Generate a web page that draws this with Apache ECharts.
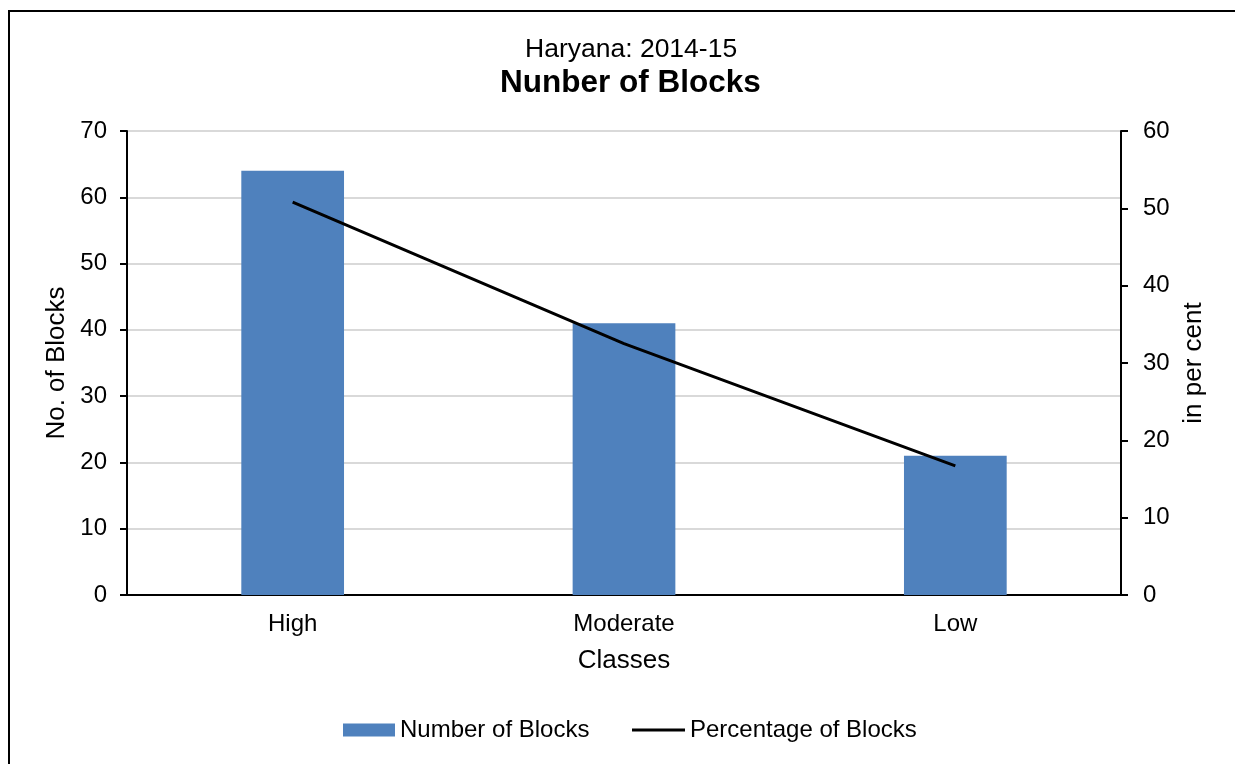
<!DOCTYPE html>
<html>
<head>
<meta charset="utf-8">
<script src="https://cdn.jsdelivr.net/npm/echarts@6/dist/echarts.min.js"></script>
<style>
  html, body { margin: 0; padding: 0; background: #fff; }
  #frame { position: absolute; left: 8px; top: 10px; width: 1240px; height: 770px; border: 2px solid #000; box-sizing: border-box; }
  #chart { position: absolute; left: 0; top: 0; width: 1235px; height: 764px; }
</style>
</head>
<body>
<div id="frame"></div>
<div id="chart"></div>
<script>
const categories = ["High", "Moderate", "Low"];
const blockCounts = [64, 41, 21];
const blockPercent = [50.8, 32.5, 16.7];
const seriesNames = ["Number of Blocks", "Percentage of Blocks"];

const chart = echarts.init(document.getElementById("chart"), null, { renderer: "canvas" });
const font = "Liberation Sans, Arial, sans-serif";
const tickText = { color: "#000", fontSize: 24, fontFamily: font };
const nameText = { color: "#000", fontSize: 26, fontFamily: font };

chart.setOption({
  animation: false,
  backgroundColor: "transparent",
  title: [
    { text: "Haryana: 2014-15", left: 520, top: 31,
      textStyle: { fontSize: 26.5, fontWeight: "normal", color: "#000", fontFamily: font } },
    { text: "Nunber of Blocks", left: 495, top: 62,
      textStyle: { fontSize: 31.5, fontWeight: "bold", color: "#000", fontFamily: font } },
  ],
  legend: [
    {
      left: 338,
      top: 713,
      textStyle: tickText,
      data: [{ name: seriesNames[0], icon: "rect" }],
      itemWidth: 52,
      itemHeight: 13,
    },
    {
      left: 627,
      top: 713,
      textStyle: tickText,
      data: [{ name: seriesNames[1], icon: "rect" }],
      itemWidth: 53,
      itemHeight: 3,
    },
  ],
  grid: { left: 127, right: 114, top: 131, bottom: 169 },
  xAxis: {
    type: "category",
    data: categories,
    name: "Classes",
    nameLocation: "middle",
    nameGap: 53,
    nameTextStyle: nameText,
    axisLine: { lineStyle: { color: "#000", width: 2 } },
    axisTick: { show: false },
    axisLabel: { ...tickText, margin: 17 },
  },
  yAxis: [
    {
      type: "value",
      min: 0, max: 70, interval: 10,
      name: "No. of Blocks",
      nameLocation: "middle",
      nameRotate: 90,
      nameGap: 54,
      nameTextStyle: nameText,
      axisLine: { show: true, lineStyle: { color: "#000", width: 2 } },
      axisTick: { show: true, length: 7, lineStyle: { color: "#000", width: 2 } },
      axisLabel: { ...tickText, margin: 20 },
      splitLine: { lineStyle: { color: "#d9d9d9", width: 2 } },
    },
    {
      type: "value",
      position: "right",
      min: 0, max: 60, interval: 10,
      name: "in per cent",
      nameLocation: "middle",
      nameRotate: 90,
      nameGap: 59,
      nameTextStyle: nameText,
      axisLine: { show: true, lineStyle: { color: "#000", width: 2 } },
      axisTick: { show: true, length: 7, lineStyle: { color: "#000", width: 2 } },
      axisLabel: { ...tickText, margin: 22 },
      splitLine: { show: false },
    },
  ],
  series: [
    {
      name: seriesNames[0],
      type: "bar",
      yAxisIndex: 0,
      data: blockCounts,
      barWidth: "31%",
      itemStyle: { color: "#4f81bd" },
    },
    {
      name: seriesNames[1],
      type: "line",
      yAxisIndex: 1,
      data: blockPercent,
      symbol: "none",
      lineStyle: { color: "#000", width: 3 },
      itemStyle: { color: "#000" },
    },
  ],
});
</script>
</body>
</html>
